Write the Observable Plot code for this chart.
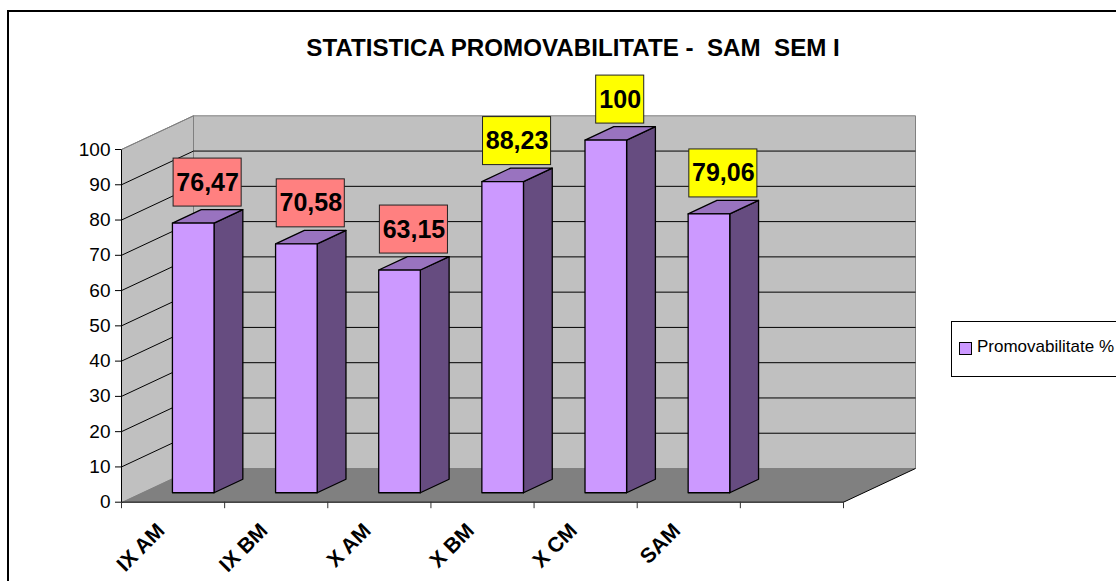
<!DOCTYPE html>
<html>
<head>
<meta charset="utf-8">
<script src="https://cdn.jsdelivr.net/npm/d3@7"></script>
<script src="https://cdn.jsdelivr.net/npm/@observablehq/plot@0.6"></script>
<style>
  body { margin: 0; background: #fff; font-family: Arial, "Liberation Sans", sans-serif; }
  #wrap { position: relative; width: 1116px; height: 581px; overflow: hidden; background: #fff; }
  #frame { position: absolute; left: 7px; top: 10px; width: 1300px; height: 800px; border: 2px solid #000; box-sizing: border-box; }
  #chart { position: absolute; left: 0; top: 0; }
  #title { position: absolute; left: 0; width: 1146px; top: 33px; text-align: center; font-weight: bold; font-size: 23px; line-height: 28px; color: #000; white-space: pre; }
  #title span { display: inline-block; transform: scale(1.05, 1.08); }
  #legend { position: absolute; left: 951px; top: 321px; width: 220px; height: 56px; border: 1px solid #000; box-sizing: border-box; background: #fff; }
  #legend .sw { position: absolute; left: 7px; top: 20px; width: 11px; height: 11px; background: #cc99ff; border: 1px solid #000; }
  #legend .lb { position: absolute; left: 25px; top: 15px; font-size: 17px; line-height: 20px; color: #000; white-space: pre; }
</style>
</head>
<body>
<div id="wrap">
  <div id="frame"></div>
  <div id="chart"></div>
  <div id="title"><span></span></div>
  <div id="legend"><div class="sw"></div><div class="lb"></div></div>
</div>
<script>
// ---- data ----
const categories = ["IX AM", "IX BM", "X AM", "X BM", "X CM", "SAM"];
const values = [76.47, 70.58, 63.15, 88.23, 100, 79.06];
const valueLabels = ["76,47", "70,58", "63,15", "88,23", "100", "79,06"];
const yTicks = [0, 10, 20, 30, 40, 50, 60, 70, 80, 90, 100];
const seriesName = "Promovabilitate %";
const chartTitle = "STATISTICA PROMOVABILITATE -  SAM  SEM I";
const bandCount = 7;

(function () {
document.querySelector("#title span").textContent = chartTitle;
document.querySelector("#legend .lb").textContent = seriesName;

// ---- layout ----
const W = 1116, H = 581;
const axLeft = 121, axRight = 843, axBottom = 501.7, axTop = 149;
const KX = (axRight - axLeft) / bandCount;   // px per band
const KY = (axBottom - axTop) / 100;         // px per value unit
const DX = 72 / KX;                          // depth offset in band units
const DY = 33.7 / KY;                        // depth offset in value units
const Z0 = 0.28, Z1 = 0.68;                  // bar front/back depth
const HW = 20.8 / KX;                        // bar half-width in bands

const P = (b, v, z) => ({x: b + z * DX, y: v + z * DY});
const polys = {back: [], leftWall: [], floor: [], front: [], side: [], topFace: []};
function addPoly(kind, id, pts) { pts.forEach(p => polys[kind].push({...p, id})); }

addPoly("back", "back", [P(0, 0, 1), P(bandCount, 0, 1), P(bandCount, 100, 1), P(0, 100, 1)]);
addPoly("leftWall", "lw", [P(0, 0, 0), P(0, 100, 0), P(0, 100, 1), P(0, 0, 1)]);
addPoly("floor", "fl", [P(0, 0, 0), P(bandCount, 0, 0), P(bandCount, 0, 1), P(0, 0, 1)]);

values.forEach((v, i) => {
  const bl = i + 0.5 - HW, br = i + 0.5 + HW;
  addPoly("side", "s" + i, [P(br, 0, Z0), P(br, 0, Z1), P(br, v, Z1), P(br, v, Z0)]);
  addPoly("topFace", "t" + i, [P(bl, v, Z0), P(br, v, Z0), P(br, v, Z1), P(bl, v, Z1)]);
  addPoly("front", "f" + i, [P(bl, 0, Z0), P(br, 0, Z0), P(br, v, Z0), P(bl, v, Z0)]);
});

const grid = yTicks.filter(t => t > 0 && t < 100);
const gridBack = grid.map(t => ({a: P(0, t, 1), b: P(bandCount, t, 1)}));
const gridLeft = grid.map(t => ({a: P(0, t, 0), b: P(0, t, 1)}));
const edges = [
  {a: P(0, 0, 0), b: P(bandCount, 0, 0)},
  {a: P(bandCount, 0, 0), b: P(bandCount, 0, 1)},
  {a: P(0, 0, 0), b: P(0, 100, 0)}
];
const grayEdges = [
  {a: P(0, 100, 0), b: P(0, 100, 1)}
];

// label boxes
const ctx = document.createElement("canvas").getContext("2d");
ctx.font = "bold 24px Arial, 'Liberation Sans', sans-serif";
const labels = values.map((v, i) => {
  const w = ctx.measureText(valueLabels[i]).width + 8;
  const cx = i + 0.5 + ((Z0 + Z1) / 2) * DX;
  const yb = v + Z1 * DY + 3 / KY;
  return {v, text: valueLabels[i], cx, x1: cx - w / 2 / KX, x2: cx + w / 2 / KX, y1: yb, y2: yb + 48 / KY, ym: yb + 24 / KY};
});

const poly = (data, fill, stroke, sw = 1) => Plot.line(data, {x: "x", y: "y", z: "id", fill, stroke, strokeWidth: sw, curve: "linear-closed", strokeLinejoin: "round"});
const seg = (data, stroke) => Plot.link(data, {x1: d => d.a.x, y1: d => d.a.y, x2: d => d.b.x, y2: d => d.b.y, stroke, strokeWidth: 1});

const plot = Plot.plot({
  width: W, height: H,
  marginLeft: axLeft, marginRight: W - axRight, marginTop: axTop, marginBottom: H - axBottom,
  x: {domain: [0, bandCount], axis: null},
  y: {domain: [0, 100], axis: null},
  color: {type: "threshold", domain: [78], range: ["#ff8080", "#ffff00"]},
  style: {background: "transparent", overflow: "visible", fontFamily: "Arial, 'Liberation Sans', sans-serif"},
  marks: [
    poly(polys.back, "#c0c0c0", "#808080"),
    poly(polys.leftWall, "#c0c0c0", "#808080"),
    poly(polys.floor, "#808080", "none"),
    seg(gridBack, "#000"),
    seg(gridLeft, "#000"),
    seg(grayEdges, "#808080"),
    seg(edges, "#000"),
    Plot.axisY(yTicks, {anchor: "left", tickSize: 6, tickPadding: 5, fontSize: 19, stroke: "#000", color: "#000"}),
    Plot.ruleX(d3.range(bandCount + 1), {x: d => d, y1: 0, y2: -6.5 / KY, stroke: "#333"}),
    Plot.text(categories, {x: (d, i) => i + 0.5, y: 0, text: d => d, rotate: -45, textAnchor: "end", dx: -12, dy: 25, fontSize: 21, fontWeight: "bold", fill: "#000"}),
    poly(polys.side, "#664c80", "#000", 1.3),
    poly(polys.topFace, "#9973bf", "#000", 1.3),
    poly(polys.front, "#cc99ff", "#000", 1.3),
    Plot.rect(labels, {x1: "x1", x2: "x2", y1: "y1", y2: "y2", fill: "v", stroke: "#222", strokeWidth: 1}),
    Plot.text(labels, {x: "cx", y: "ym", text: "text", fontSize: 25, fontWeight: "bold", fill: "#000"})
  ]
});
document.getElementById("chart").appendChild(plot);
})();
</script>
</body>
</html>
